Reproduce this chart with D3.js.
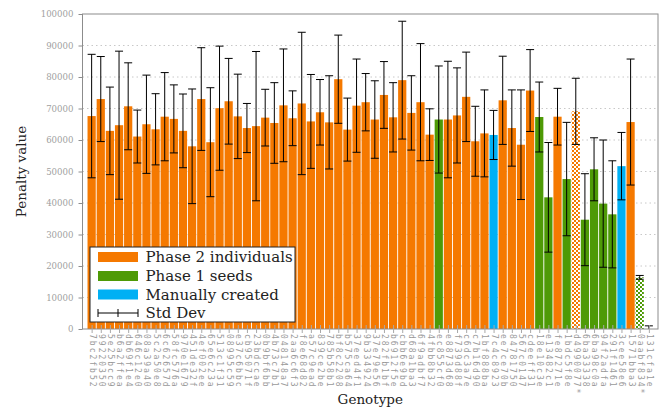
<!DOCTYPE html>
<html>
<head>
<meta charset="utf-8">
<script src="https://cdn.jsdelivr.net/npm/d3@7"></script>
<style>
  body { margin: 0; background: #fff; }
  svg { display: block; }
</style>
</head>
<body>
<div id="chart"></div>
<script>
// genotype ids, one per bar
var genotypes = ['7bc2fb52', '99220350', '5e25bcc9', 'b6a2ffea', 'db69f1e4', '646c12e0', '08a39a40', '5c2a50e8',
    '6c62657d', '58fc576a', '970e1679', '451de32f', '4ef002ee', '65e6c23a', '513c1f31', '08995c59',
    'e37c6bbc', 'cb95071f', '23bdccae', '0b9bf6bb', '4b73c7b1', '048148a7', '2aa6c6f3', 'f8e68d82',
    'a57c9ead', '839ce2be', '785b58b1', 'bf8c2208', 'b575ca64', '37eed4f1', '9b334924', '37e79e56',
    '282fb1bf', 'b6912f5e', 'cbb6e9bd', 'd68a1ba3', '6f9adbf7', '4fbb8b32', 'ec855cf0', 'e8873d68',
    'f739d88f', 'c6dc3a7e', 'c7b16d90', '1bf888ba', '7c4c8923', 'ee7ce70b', '84781750', '567c0147',
    'cdeeff31', '18e10c3e', 'e13482c1', 'fe87271e', '1bdc5f8e', 'd4990077*', '6ba33338', '6ba98c0a',
    '94f2adfa', '291f1461', '3cee58e6', '1571bba3', '0aabf834*', '131cfa1e'];

// mean penalty value
var penalty = [67600, 73000, 62900, 64700, 70700, 61100, 65000, 63400,
    67400, 66700, 62900, 58000, 73000, 59300, 70100, 72300,
    67500, 63800, 64400, 67100, 65400, 71000, 66900, 71600,
    65900, 68800, 65600, 79300, 63300, 70900, 72000, 66500,
    74300, 67200, 79000, 68600, 72000, 61700, 66500, 66500,
    67800, 73700, 59600, 62100, 61600, 72600, 63800, 58500,
    75700, 67300, 41800, 67400, 47600, 69100, 34700, 50700,
    39800, 36400, 51700, 65700, 16400, 0];

// standard deviation
var stdDev = [19600, 13500, 13900, 23500, 13800, 8400, 15600, 11300,
    14000, 10800, 11700, 18200, 16300, 17300, 19700, 13600,
    13400, 7800, 23700, 9000, 12800, 17900, 8700, 22600,
    14900, 10400, 14800, 14000, 10000, 14800, 9100, 12300,
    10600, 11000, 18700, 11800, 18600, 8200, 17000, 18500,
    15100, 14200, 11100, 13800, 7800, 14000, 12100, 17400,
    13000, 11100, 17400, 9000, 18000, 10500, 14600, 10000,
    20200, 17000, 10700, 20000, 600, 1000];

// origin of each genotype: 0 = phase 2, 1 = phase 1 seed, 2 = manual
var origin = [0, 0, 0, 0, 0, 0, 0, 0, 0, 0, 0, 0, 0, 0, 0, 0,
    0, 0, 0, 0, 0, 0, 0, 0, 0, 0, 0, 0, 0, 0, 0, 0,
    0, 0, 0, 0, 0, 0, 1, 0, 0, 0, 0, 0, 2, 0, 0, 0,
    0, 1, 1, 0, 1, 0, 1, 1, 1, 1, 2, 0, 1, 0];

var seriesNames = ['Phase 2 individuals', 'Phase 1 seeds', 'Manually created'];
var yTicks = [0, 10000, 20000, 30000, 40000, 50000, 60000, 70000, 80000, 90000, 100000];

var width = 663;
var height = 411;
var plot = {left: 82.5, right: 658, top: 14, bottom: 329};
var colors = ['#f57900', '#4e9a06', '#00b0f4'];
var serif = 'DejaVu Serif, serif';

var svg = d3.select('#chart')
    .append('svg')
    .attr('width', width)
    .attr('height', height);

var defs = svg.append('defs');
colors.forEach(function (c, i) {
    var p = defs.append('pattern')
        .attr('id', 'hatch' + i)
        .attr('patternUnits', 'userSpaceOnUse')
        .attr('width', 4)
        .attr('height', 4);
    p.append('rect').attr('width', 4).attr('height', 4).attr('fill', c);
    p.append('rect').attr('width', 2).attr('height', 2).attr('fill', '#fff');
    p.append('rect').attr('x', 2).attr('y', 2).attr('width', 2).attr('height', 2).attr('fill', '#fff');
});
defs.append('clipPath').attr('id', 'plotclip')
    .append('rect')
    .attr('x', plot.left).attr('y', plot.top)
    .attr('width', plot.right - plot.left).attr('height', plot.bottom - plot.top);

var x = d3.scaleLinear()
    .domain([-1, genotypes.length])
    .range([plot.left, plot.right]);

var y = d3.scaleLinear()
    .domain([0, 100000])
    .range([plot.bottom, plot.top]);

var step = x(1) - x(0);
var barWidth = step * 0.9;

// grid
svg.append('g')
    .selectAll('line')
    .data(yTicks.slice(1, -1))
    .enter()
    .append('line')
    .attr('x1', plot.left).attr('x2', plot.right)
    .attr('y1', function (d) {return y(d);})
    .attr('y2', function (d) {return y(d);})
    .attr('stroke', '#c8c8c8')
    .attr('stroke-dasharray', '1.5,3');

var data = genotypes.map(function (g, i) {
    return {name: g, value: penalty[i], sd: stdDev[i], origin: origin[i], hatched: g.indexOf('*') >= 0};
});

svg.append('g')
    .selectAll('rect')
    .data(data)
    .enter()
    .append('rect')
    .attr('x', function (d, i) {return x(i) - barWidth / 2;})
    .attr('y', function (d) {return y(d.value);})
    .attr('width', barWidth)
    .attr('height', function (d) {return plot.bottom - y(d.value);})
    .attr('fill', function (d) {return d.hatched ? 'url(#hatch' + d.origin + ')' : colors[d.origin];});

// error bars
var err = svg.append('g')
    .attr('clip-path', 'url(#plotclip)')
    .attr('stroke', '#000')
    .attr('stroke-width', 1)
    .selectAll('g')
    .data(data)
    .enter()
    .append('g');

err.append('line')
    .attr('x1', function (d, i) {return x(i);})
    .attr('x2', function (d, i) {return x(i);})
    .attr('y1', function (d) {return y(d.value + d.sd);})
    .attr('y2', function (d) {return y(d.value - d.sd);});

[1, -1].forEach(function (s) {
    err.append('line')
        .attr('x1', function (d, i) {return x(i) - 4;})
        .attr('x2', function (d, i) {return x(i) + 4;})
        .attr('y1', function (d) {return y(d.value + s * d.sd);})
        .attr('y2', function (d) {return y(d.value + s * d.sd);});
});

// frame
svg.append('rect')
    .attr('x', plot.left).attr('y', plot.top)
    .attr('width', plot.right - plot.left).attr('height', plot.bottom - plot.top)
    .attr('fill', 'none')
    .attr('stroke', '#8c8c8c')
    .attr('stroke-width', 1);

// y axis
var yAxis = svg.append('g')
    .attr('transform', 'translate(' + plot.left + ',0)')
    .call(d3.axisLeft(y).tickValues(yTicks).tickSize(4).tickPadding(5).tickFormat(d3.format('d')));
yAxis.select('.domain').remove();
yAxis.selectAll('line').attr('stroke', '#8c8c8c');
yAxis.selectAll('text')
    .attr('fill', '#a0a0a0')
    .style('font-family', serif)
    .style('font-size', '8.6px');

// x axis
var xAxis = svg.append('g')
    .attr('transform', 'translate(0,' + plot.bottom + ')')
    .call(d3.axisBottom(x).tickValues(d3.range(genotypes.length)).tickSize(4)
        .tickFormat(function (i) {return genotypes[i];}));
xAxis.select('.domain').remove();
xAxis.selectAll('line').attr('stroke', '#a8a8a8').attr('y1', -4);
xAxis.selectAll('text')
    .attr('fill', '#9a9a9a')
    .attr('transform', 'rotate(90)')
    .attr('x', 5)
    .attr('y', 0)
    .attr('dy', '0.32em')
    .style('text-anchor', 'start')
    .style('font-family', 'DejaVu Sans Mono, monospace')
    .style('font-size', '8px')
    .style('letter-spacing', '2px');

// axis titles
svg.append('text')
    .attr('x', (plot.left + plot.right) / 2)
    .attr('y', 404)
    .attr('text-anchor', 'middle')
    .style('font-family', serif)
    .style('font-size', '13.5px')
    .attr('fill', '#222')
    .text('Genotype');

svg.append('text')
    .attr('transform', 'translate(26,' + ((plot.top + plot.bottom) / 2) + ') rotate(-90)')
    .attr('text-anchor', 'middle')
    .style('font-family', serif)
    .style('font-size', '13.5px')
    .attr('fill', '#222')
    .text('Penalty value');

// legend
var legend = svg.append('g').attr('transform', 'translate(90,247)');
legend.append('rect')
    .attr('width', 205).attr('height', 75)
    .attr('fill', '#fff')
    .attr('stroke', '#222')
    .attr('stroke-width', 1);

var rowY = [10, 29, 47.5, 66];
var items = legend.selectAll('.legend')
    .data(seriesNames.concat(['Std Dev']))
    .enter()
    .append('g')
    .attr('class', 'legend')
    .attr('transform', function (d, i) {return 'translate(0,' + rowY[i] + ')';});

items.filter(function (d, i) {return i < 3;})
    .append('rect')
    .attr('x', 8).attr('y', -5)
    .attr('width', 40).attr('height', 10)
    .attr('fill', function (d, i) {return colors[i];});

var sd = items.filter(function (d, i) {return i === 3;});
sd.append('line').attr('x1', 8).attr('x2', 48).attr('y1', 0).attr('y2', 0).attr('stroke', '#000');
[8, 28, 48].forEach(function (px) {
    sd.append('line').attr('x1', px).attr('x2', px).attr('y1', -4).attr('y2', 4).attr('stroke', '#000');
});

items.append('text')
    .attr('x', 55.5)
    .attr('y', 0)
    .attr('dy', '0.35em')
    .style('font-family', serif)
    .style('font-size', '15px')
    .attr('fill', '#222')
    .text(function (d) {return d;});
</script>
</body>
</html>
